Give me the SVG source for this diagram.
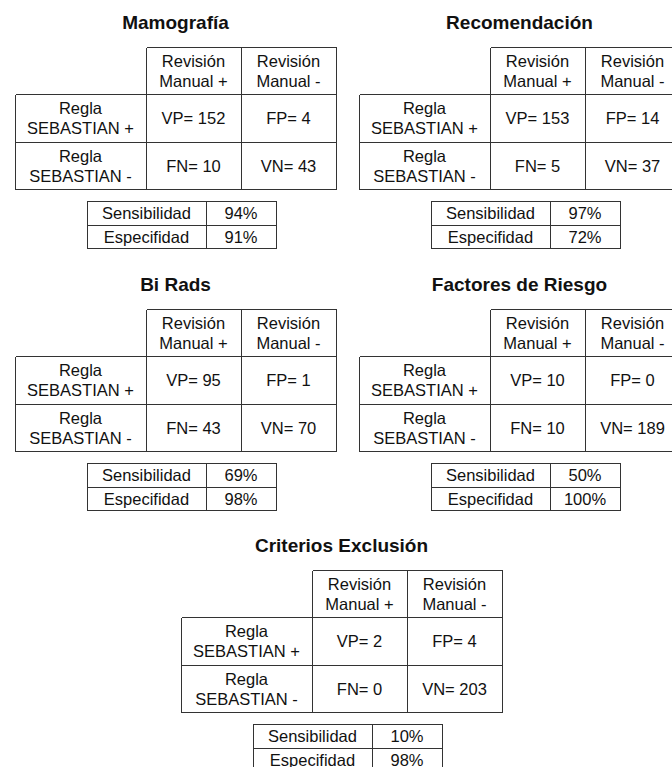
<svg xmlns="http://www.w3.org/2000/svg" width="672" height="767" viewBox="0 0 672 767">
<style>
.ln{stroke:#333;stroke-width:1;fill:none;shape-rendering:crispEdges}
.t{font-family:"Liberation Sans",Arial,sans-serif;font-size:16.5px;text-anchor:middle;fill:#111}
.h{font-family:"Liberation Sans",Arial,sans-serif;font-size:19px;font-weight:bold;text-anchor:middle;fill:#111}
</style>
<defs>
<path id="grid" class="ln" d="M131.5,0.5H321.5M0.5,47.5H321.5M0.5,95.5H321.5M0.5,142.5H321.5M0.5,47.5V142.5M131.5,0.5V142.5M226.5,0.5V142.5M321.5,0.5V142.5"/>
<path id="stats" class="ln" d="M72.5,154.5H261.5V201.5H72.5ZM72.5,178.5H261.5M191.5,154.5V201.5"/>
<g id="hdr">
<text class="t" x="178.5" y="19.5">Revisión</text>
<text class="t" x="178.5" y="40">Manual +</text>
<text class="t" x="273.5" y="19.5">Revisión</text>
<text class="t" x="273.5" y="40">Manual -</text>
<text class="t" x="65.5" y="66.5">Regla</text>
<text class="t" x="65.5" y="87">SEBASTIAN +</text>
<text class="t" x="65.5" y="114.5">Regla</text>
<text class="t" x="65.5" y="135">SEBASTIAN -</text>
<text class="t" x="131.5" y="172">Sensibilidad</text>
<text class="t" x="131.5" y="195.5">Especifidad</text>
</g>
</defs>

<g id="mamografia" transform="translate(15,47)">
<text class="h" x="160.5" y="-18">Mamografía</text>
<use href="#grid"/><use href="#stats"/><use href="#hdr"/>
<text class="t" x="178.5" y="77">VP= 152</text>
<text class="t" x="273.5" y="77">FP= 4</text>
<text class="t" x="178.5" y="124.5">FN= 10</text>
<text class="t" x="273.5" y="124.5">VN= 43</text>
<text class="t" x="226" y="172">94%</text>
<text class="t" x="226" y="195.5">91%</text>
</g>

<g id="recomendacion" transform="translate(359,47)">
<text class="h" x="160.5" y="-18">Recomendación</text>
<use href="#grid"/><use href="#stats"/><use href="#hdr"/>
<text class="t" x="178.5" y="77">VP= 153</text>
<text class="t" x="273.5" y="77">FP= 14</text>
<text class="t" x="178.5" y="124.5">FN= 5</text>
<text class="t" x="273.5" y="124.5">VN= 37</text>
<text class="t" x="226" y="172">97%</text>
<text class="t" x="226" y="195.5">72%</text>
</g>

<g id="birads" transform="translate(15,309)">
<text class="h" x="160.5" y="-18">Bi Rads</text>
<use href="#grid"/><use href="#stats"/><use href="#hdr"/>
<text class="t" x="178.5" y="77">VP= 95</text>
<text class="t" x="273.5" y="77">FP= 1</text>
<text class="t" x="178.5" y="124.5">FN= 43</text>
<text class="t" x="273.5" y="124.5">VN= 70</text>
<text class="t" x="226" y="172">69%</text>
<text class="t" x="226" y="195.5">98%</text>
</g>

<g id="factores" transform="translate(359,309)">
<text class="h" x="160.5" y="-18">Factores de Riesgo</text>
<use href="#grid"/><use href="#stats"/><use href="#hdr"/>
<text class="t" x="178.5" y="77">VP= 10</text>
<text class="t" x="273.5" y="77">FP= 0</text>
<text class="t" x="178.5" y="124.5">FN= 10</text>
<text class="t" x="273.5" y="124.5">VN= 189</text>
<text class="t" x="226" y="172">50%</text>
<text class="t" x="226" y="195.5">100%</text>
</g>

<g id="criterios" transform="translate(181,570)">
<text class="h" x="160.5" y="-18">Criterios Exclusión</text>
<use href="#grid"/><use href="#stats"/><use href="#hdr"/>
<text class="t" x="178.5" y="77">VP= 2</text>
<text class="t" x="273.5" y="77">FP= 4</text>
<text class="t" x="178.5" y="124.5">FN= 0</text>
<text class="t" x="273.5" y="124.5">VN= 203</text>
<text class="t" x="226" y="172">10%</text>
<text class="t" x="226" y="195.5">98%</text>
</g>
</svg>
